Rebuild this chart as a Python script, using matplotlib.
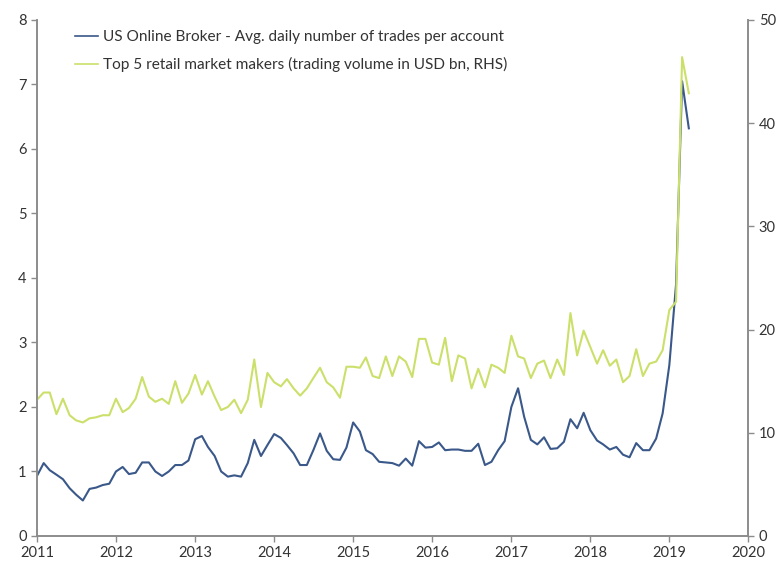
import matplotlib.pyplot as plt
import numpy as np
import pandas as pd

# Monthly data, Jan 2011 - Apr 2019
months = pd.date_range('2011-01-01', '2019-04-01', freq='MS')

trades_per_account = [
    0.93, 1.13, 1.02, 0.95, 0.88, 0.74, 0.64, 0.55, 0.73, 0.75, 0.79, 0.81,  # 2011
    1.00, 1.07, 0.96, 0.98, 1.14, 1.14, 1.00, 0.93, 1.00, 1.10, 1.10, 1.17,  # 2012
    1.50, 1.55, 1.38, 1.24, 1.00, 0.92, 0.94, 0.92, 1.13, 1.49, 1.24, 1.41,  # 2013
    1.58, 1.52, 1.41, 1.28, 1.10, 1.10, 1.33, 1.59, 1.32, 1.19, 1.18, 1.37,  # 2014
    1.76, 1.62, 1.33, 1.27, 1.15, 1.14, 1.13, 1.09, 1.20, 1.09, 1.47, 1.37,  # 2015
    1.38, 1.45, 1.33, 1.34, 1.34, 1.32, 1.32, 1.43, 1.10, 1.15, 1.33, 1.47,  # 2016
    2.00, 2.29, 1.85, 1.49, 1.42, 1.53, 1.35, 1.36, 1.46, 1.81, 1.67, 1.91,  # 2017
    1.64, 1.48, 1.42, 1.34, 1.38, 1.26, 1.22, 1.44, 1.33, 1.33, 1.51, 1.90,  # 2018
    2.65, 3.90, 7.05, 6.32,                                                  # 2019
]

mm_volume = [
    13.2, 13.9, 13.9, 11.8, 13.3, 11.7, 11.2, 11.0, 11.4, 11.5, 11.7, 11.7,  # 2011
    13.3, 12.0, 12.4, 13.3, 15.4, 13.5, 13.0, 13.3, 12.8, 15.0, 12.9, 13.8,  # 2012
    15.6, 13.7, 15.0, 13.5, 12.2, 12.5, 13.2, 11.9, 13.2, 17.1, 12.5, 15.8,  # 2013
    14.9, 14.5, 15.2, 14.3, 13.6, 14.3, 15.3, 16.3, 14.9, 14.4, 13.4, 16.4,  # 2014
    16.4, 16.3, 17.3, 15.5, 15.3, 17.4, 15.5, 17.4, 16.9, 15.4, 19.1, 19.1,  # 2015
    16.8, 16.6, 19.2, 15.0, 17.5, 17.2, 14.3, 16.2, 14.4, 16.6, 16.3, 15.8,  # 2016
    19.4, 17.4, 17.2, 15.3, 16.7, 17.0, 15.3, 17.1, 15.6, 21.6, 17.5, 19.9,  # 2017
    18.3, 16.7, 18.0, 16.5, 17.1, 14.9, 15.5, 18.1, 15.5, 16.7, 16.9, 18.0,  # 2018
    21.9, 22.7, 46.4, 42.9,                                                  # 2019
]

BLUE = '#3a5889'
GREEN = '#cbe06a'
GREY = '#8c8c8c'
TXT = '#333333'

plt.rcParams['font.family'] = ['Lato', 'DejaVu Sans']

fig = plt.figure(figsize=(7.8, 5.63), dpi=100)
ax = fig.add_axes([0.0474, 0.048, 0.912, 0.9165])
ax2 = ax.twinx()

ax.plot(months, trades_per_account, color=BLUE, lw=1.5,
        label='US Online Broker - Avg. daily number of trades per account')
ax2.plot(months, mm_volume, color=GREEN, lw=1.5,
         label='Top 5 retail market makers (trading volume in USD bn, RHS)')

ax.set_ylim(0, 8)
ax2.set_ylim(0, 50)
ax.set_xlim(pd.Timestamp('2011-01-01'), pd.Timestamp('2020-01-01'))
ax.set_xticks(pd.date_range('2011-01-01', '2020-01-01', freq='YS'))
ax.set_xticklabels([str(y) for y in range(2011, 2021)])
ax.set_yticks(np.arange(0, 9, 1))
ax2.set_yticks(np.arange(0, 51, 10))

for a in (ax, ax2):
    a.spines['top'].set_visible(False)
    for s in ('left', 'right', 'bottom'):
        a.spines[s].set_color(GREY)
        a.spines[s].set_linewidth(1.2)
    a.tick_params(colors=GREY, labelcolor=TXT, labelsize=10.5, length=4, width=1)
ax.tick_params(axis='x', pad=3)

h1, l1 = ax.get_legend_handles_labels()
h2, l2 = ax2.get_legend_handles_labels()
leg = ax.legend(h1 + h2, l1 + l2, loc='upper left', bbox_to_anchor=(0.045, 0.992),
                frameon=False, fontsize=11.1, handlelength=1.5, handletextpad=0.3,
                borderaxespad=0.0, labelspacing=0.85)
for t in leg.get_texts():
    t.set_color(TXT)
for ln in leg.get_lines():
    ln.set_linewidth(1.2)

plt.savefig('out.png', dpi=100)
